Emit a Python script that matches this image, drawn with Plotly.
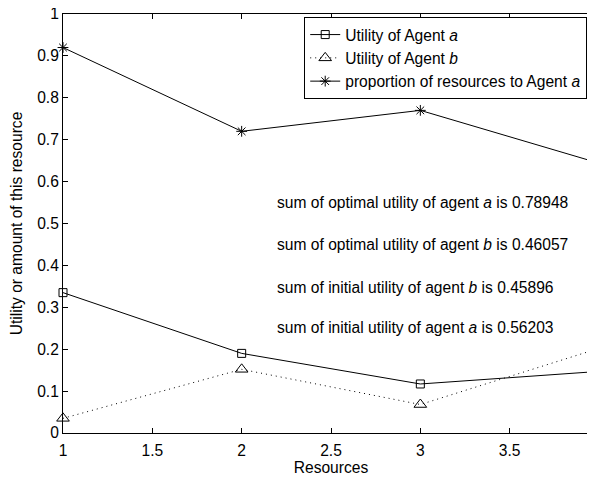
import plotly.graph_objects as go

resources = [1, 2, 3, 4]
utility_a = [0.335, 0.19, 0.117, 0.147]
utility_b = [0.035, 0.152, 0.068, 0.202]
proportion_a = [0.92, 0.72, 0.77, 0.644]

names = ["Utility of Agent <i>a</i>", "Utility of Agent <i>b</i>",
         "proportion of resources to Agent <i>a</i>"]

notes_text = [
    "sum of optimal utility of agent <i>a</i> is 0.78948",
    "sum of optimal utility of agent <i>b</i> is 0.46057",
    "sum of initial utility of agent <i>b</i> is 0.45896",
    "sum of initial utility of agent <i>a</i> is 0.56203",
]
notes_y = [0.549, 0.449, 0.348, 0.251]
notes_x = 2.185

x_ticks = [1, 1.5, 2, 2.5, 3, 3.5, 4]
x_ticklabels = ["1", "1.5", "2", "2.5", "3", "3.5", "4"]
y_ticks = [0, 0.1, 0.2, 0.3, 0.4, 0.5, 0.6, 0.7, 0.8, 0.9, 1]
y_ticklabels = ["0", "0.1", "0.2", "0.3", "0.4", "0.5", "0.6", "0.7", "0.8", "0.9", "1"]

FONT = "Liberation Sans, Arial, Helvetica, sans-serif"
FS = 15.6

fig = go.Figure()
fig.add_trace(go.Scatter(
    x=resources, y=utility_a, name=names[0], mode="lines+markers",
    line=dict(color="black", width=1),
    marker=dict(symbol="square-open", size=8, color="black", line=dict(width=1, color="black")),
    cliponaxis=False,
))
fig.add_trace(go.Scatter(
    x=resources, y=utility_b, name=names[1], mode="lines+markers",
    line=dict(color="black", width=1, dash="1px,4px"),
    marker=dict(symbol="triangle-up-open", size=11, color="black", line=dict(width=1, color="black")),
    cliponaxis=False,
))
fig.add_trace(go.Scatter(
    x=resources, y=proportion_a, name=names[2], mode="lines+markers",
    line=dict(color="black", width=1),
    marker=dict(symbol="asterisk-open", size=9, color="black", line=dict(width=1, color="black")),
    cliponaxis=False,
))

for t, yv in zip(notes_text, notes_y):
    fig.add_annotation(x=notes_x, y=yv, xref="x", yref="y", text=t, showarrow=False,
                       xanchor="left", yanchor="middle",
                       font=dict(family=FONT, size=FS, color="black"))

fig.update_layout(
    width=595, height=481,
    margin=dict(l=54.7, r=4.3, t=6, b=56, pad=0, autoexpand=False),
    paper_bgcolor="white", plot_bgcolor="white",
    font=dict(family=FONT, size=FS, color="black"),
    showlegend=True,
    legend=dict(
        x=0.978, y=0.993, xanchor="right", yanchor="top",
        bgcolor="white", bordercolor="black", borderwidth=1,
        font=dict(family=FONT, size=FS, color="black"),
        tracegroupgap=0, itemsizing="trace",
    ),
    xaxis=dict(
        range=[1, 4], tickmode="array", tickvals=x_ticks, ticktext=x_ticklabels,
        ticks="inside", ticklen=5, tickcolor="black", tickwidth=1,
        showline=True, linecolor="black", linewidth=1, mirror="ticks",
        showgrid=False, zeroline=False, automargin=False, ticklabelstandoff=3,
        ticklabeloverflow="allow",
        title=dict(text="Resources", standoff=4, font=dict(family=FONT, size=FS)),
        tickfont=dict(family=FONT, size=FS),
    ),
    yaxis=dict(
        range=[0, 1], tickmode="array", tickvals=y_ticks, ticktext=y_ticklabels,
        ticks="inside", ticklen=5, tickcolor="black", tickwidth=1,
        showline=True, linecolor="black", linewidth=1, mirror="ticks",
        showgrid=False, zeroline=False, ticklabelstandoff=0, automargin=False,
        ticklabeloverflow="allow",
        title=dict(text="Utility or amount of this resource", standoff=10,
                   font=dict(family=FONT, size=FS)),
        tickfont=dict(family=FONT, size=FS),
    ),
)

fig.write_html("out.html")
